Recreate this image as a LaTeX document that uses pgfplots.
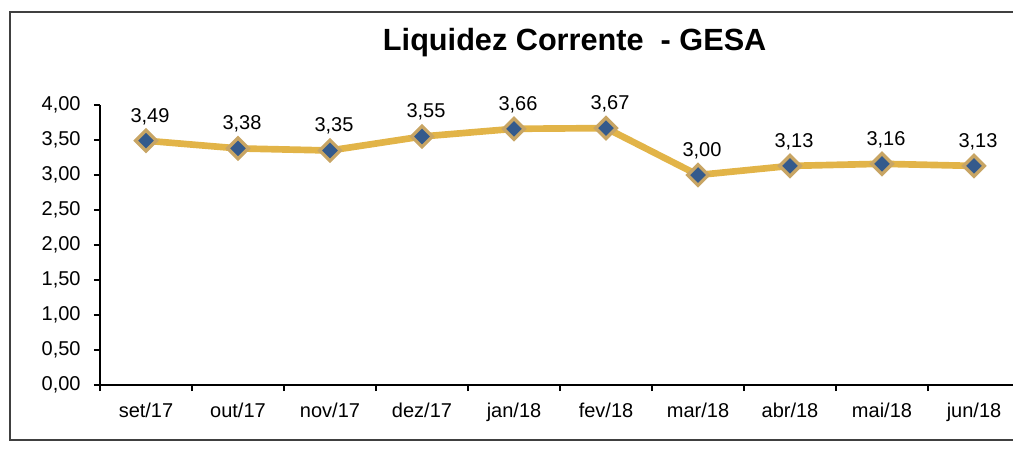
\documentclass[border=0pt]{standalone}
\usepackage{pgfplots}
\pgfplotsset{compat=1.18}
\usepackage{fontspec}
\setmainfont{Liberation Sans}
\definecolor{lineg}{RGB}{226,180,72}
\definecolor{mkb}{RGB}{200,165,100}
\definecolor{mkf}{RGB}{52,90,140}
\begin{document}
\begin{tikzpicture}
\useasboundingbox (-75pt,-49.5pt) rectangle (684.75pt,288.75pt);
\draw[black!75, line width=1pt] (700pt,279.75pt) -- (-67.5pt,279.75pt) -- (-67.5pt,-41.25pt) -- (700pt,-41.25pt);
\begin{axis}[at={(0,0)}, anchor=south west, scale only axis, width=690pt, height=210pt,
 xmin=-0.5, xmax=9.5, ymin=0, ymax=4,
 axis x line*=bottom, axis y line*=left,
 axis line style={-, black, line width=0.8pt},
 tick style={black, line width=0.8pt},
 tick align=outside, major tick length=4.5pt,
 xtick={-0.5,0.5,...,9.5}, xticklabels={},
 extra x ticks={0,1,2,3,4,5,6,7,8,9},
 extra x tick labels={set/17,out/17,nov/17,dez/17,jan/18,fev/18,mar/18,abr/18,mai/18,jun/18},
 extra x tick style={major tick length=0pt},
 ytick={0,0.5,...,4},
 /pgf/number format/fixed, /pgf/number format/fixed zerofill,
 /pgf/number format/precision=2, /pgf/number format/use comma,
 /pgf/number format/assume math mode=true,
 ticklabel style={font=\fontsize{15}{18}\selectfont},
 xticklabel style={yshift=-10pt},
 yticklabel style={xshift=-6.5pt},
 clip=false,
 nodes near coords,
 every node near coord/.append style={font=\fontsize{15}{18}\selectfont, black, anchor=base, yshift=14pt, xshift=3pt},
]
\addplot[color=lineg, line width=5pt, mark=square*, mark size=5.5pt,
 mark options={rotate=45, draw=mkb, fill=mkf, line width=2.5pt, solid}]
 coordinates {(0,3.49) (1,3.38) (2,3.35) (3,3.55) (4,3.66) (5,3.67) (6,3.00) (7,3.13) (8,3.16) (9,3.13)};
\end{axis}
\node[font=\bfseries\fontsize{23}{27}\selectfont] at (356pt,256.5pt) {Liquidez Corrente \ - GESA};
\end{tikzpicture}
\end{document}
